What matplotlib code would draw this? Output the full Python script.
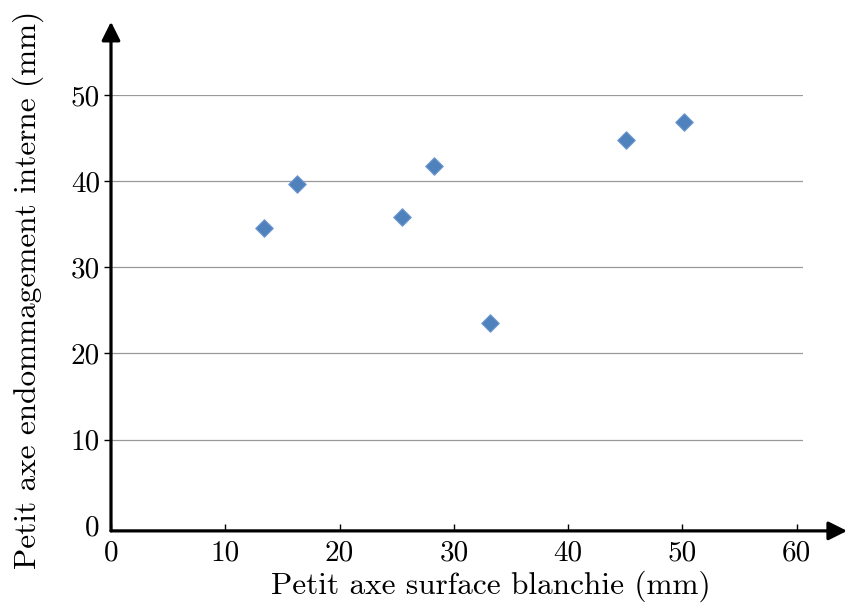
import matplotlib
matplotlib.use("Agg")
import matplotlib.pyplot as plt

plt.rcParams['font.family'] = ['cmr10', 'DejaVu Serif']
plt.rcParams['mathtext.fontset'] = 'cm'
plt.rcParams['axes.unicode_minus'] = False

# data
surface_blanchie = [13.4, 16.3, 25.5, 28.3, 33.2, 45.1, 50.1]
endommagement_interne = [34.6, 39.7, 35.8, 41.8, 23.5, 44.8, 46.9]

x_ticks = [0, 10, 20, 30, 40, 50, 60]
y_ticks = [0, 10, 20, 30, 40, 50]

fig = plt.figure(figsize=(8.46, 6.10), dpi=100)
ax = fig.add_axes([0.1312, 0.1297, 0.8174, 0.7146])

ax.set_xlim(0, 60.5)
ax.set_ylim(-0.6, 50)

# horizontal grid lines
for y in y_ticks[1:]:
    ax.axhline(y, color='#999999', lw=0.9, zorder=1)

ax.scatter(surface_blanchie, endommagement_interne, marker='D', s=80,
           color='#4F81BD', edgecolor='#6F9AD0', linewidth=0.8, zorder=3)

for side in ['top', 'right', 'left', 'bottom']:
    ax.spines[side].set_visible(False)

# axes with arrows
ax.annotate('', xy=(64.4, -0.6), xytext=(0, -0.6),
            arrowprops=dict(arrowstyle='-|>', lw=2.3, color='black',
                            mutation_scale=28, shrinkA=0, shrinkB=0),
            annotation_clip=False, zorder=5)
ax.annotate('', xy=(0, 58.5), xytext=(0, -0.6),
            arrowprops=dict(arrowstyle='-|>', lw=2.3, color='black',
                            mutation_scale=28, shrinkA=0, shrinkB=0),
            annotation_clip=False, zorder=5)

ax.set_xticks(x_ticks)
ax.set_xticklabels([str(v) for v in x_ticks])
ax.set_yticks(y_ticks)
ax.set_yticklabels([str(v) for v in y_ticks])
ax.tick_params(axis='x', direction='in', length=5, width=1, labelsize=21, pad=7)
ax.tick_params(axis='y', direction='out', length=5, width=1, labelsize=21, pad=3)
ax.yaxis.get_major_ticks()[0].tick1line.set_visible(False)

ax.set_xlabel('Petit axe surface blanchie (mm)', fontsize=22.5)
ax.set_ylabel('Petit axe endommagement interne (mm)', fontsize=22.5)
ax.xaxis.set_label_coords(0.549, -0.092)
ax.yaxis.set_label_coords(-0.097, 0.553)

fig.savefig('out.png', dpi=100)
